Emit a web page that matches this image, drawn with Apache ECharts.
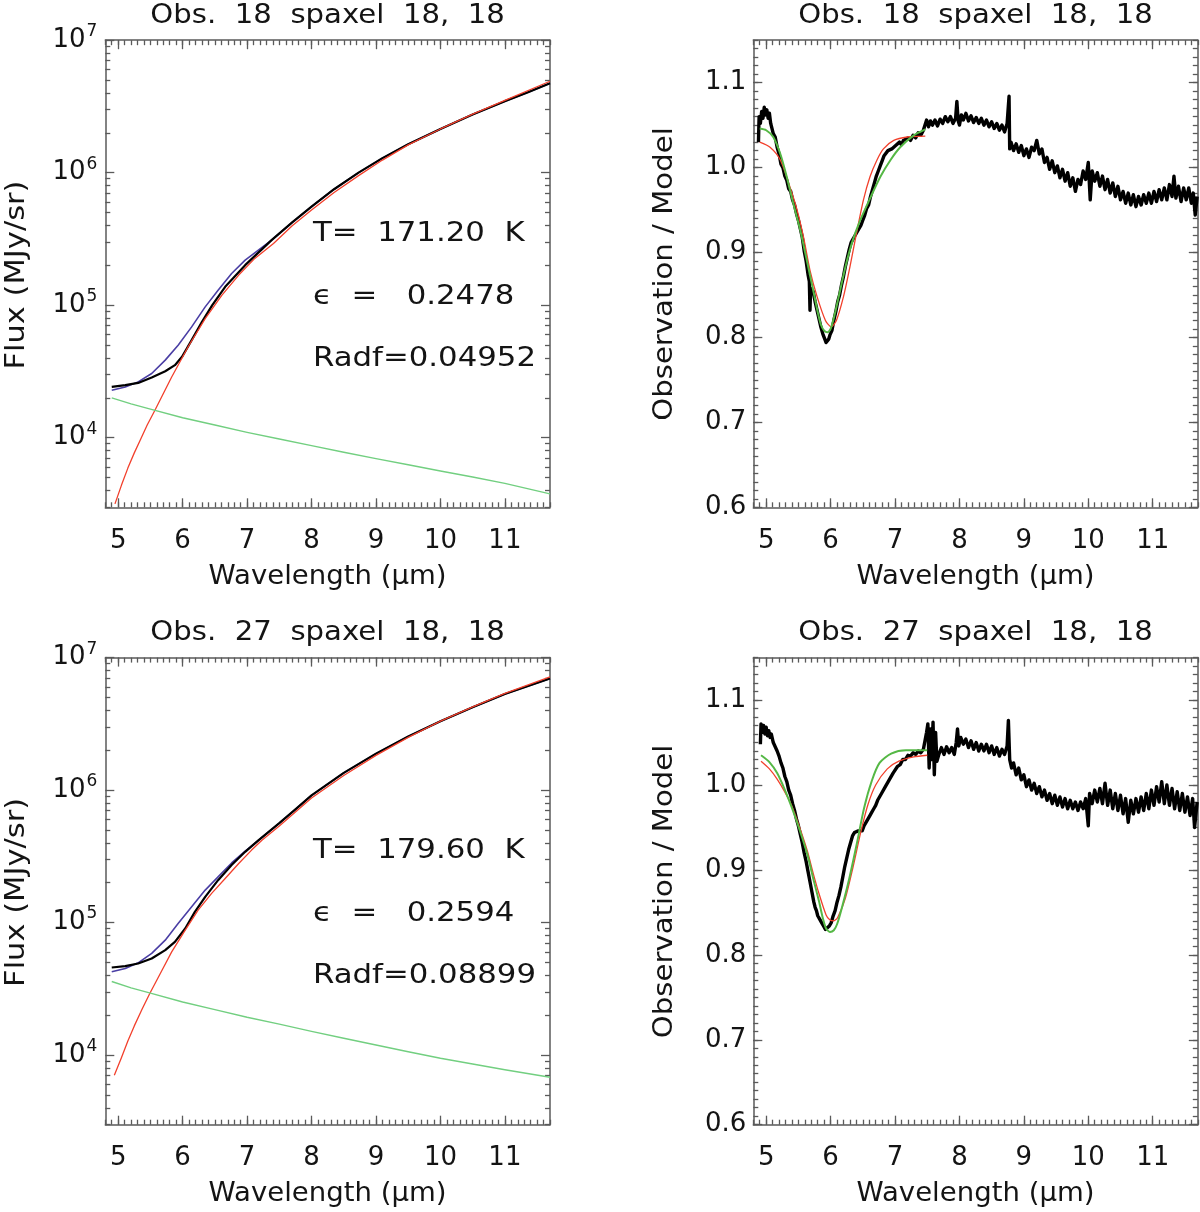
<!DOCTYPE html>
<html>
<head>
<meta charset="utf-8">
<script src="https://cdn.jsdelivr.net/npm/echarts@6/dist/echarts.min.js"></script>
<style>html,body{margin:0;padding:0;background:#fff}#c{width:1200px;height:1212px}</style>
</head>
<body>
<div id="c"></div>
<script>
// ---------- tick labels ----------
const xTicks = [5, 6, 7, 8, 9, 10, 11];
const logTicks = [1e4, 1e5, 1e6, 1e7];
const ratioTicks = [0.6, 0.7, 0.8, 0.9, 1.0, 1.1];

// ---------- Obs. 18 : flux (MJy/sr) ----------
const obs18Flux = [[4.90,24150],[5.11,24890],[5.31,25880],[5.52,28440],[5.73,31700],[5.88,35240],[5.99,40740],[6.14,54450],[6.30,74820],[6.46,100000],[6.66,137700],[6.97,200400],[7.38,309700],[7.70,421700],[8.00,553400],[8.35,749900],[8.73,1000000],[9.10,1288000],[9.50,1641000],[10.00,2138000],[10.50,2754000],[11.00,3467000],[11.35,4027000],[11.70,4732000]];
const model18Total = [[4.90,22800],[5.11,24150],[5.31,26360],[5.52,30480],[5.73,38460],[5.93,49890],[6.14,68550],[6.35,97050],[6.55,129700],[6.76,173400],[6.97,218800],[7.38,309700],[7.70,421700],[8.00,553400],[8.35,749900],[8.73,1000000],[9.10,1288000],[9.50,1641000],[10.00,2138000],[10.50,2754000],[11.00,3467000],[11.35,4027000],[11.70,4732000]];
const model18BB = [[4.95,3162],[5.05,4365],[5.15,5888],[5.25,7674],[5.35,9772],[5.45,12450],[5.57,16110],[5.83,28710],[6.09,48980],[6.35,79250],[6.61,119100],[6.87,168700],[7.12,225400],[7.41,292400],[7.70,398100],[8.00,522400],[8.35,707900],[8.73,950600],[9.10,1245000],[9.50,1622000],[10.00,2138000],[10.50,2767000],[11.00,3516000],[11.70,4898000]];
const model18Scat = [[4.90,19950],[5.20,17990],[5.50,16410],[6.00,14130],[6.50,12450],[7.00,10960],[7.50,9772],[8.00,8710],[8.50,7762],[9.00,6950],[9.50,6237],[10.00,5598],[10.50,5047],[11.00,4519],[11.70,3767]];

// ---------- Obs. 27 : flux (MJy/sr) ----------
const obs27Flux = [[4.90,45810],[5.11,46880],[5.31,49090],[5.52,53580],[5.73,61940],[5.88,71450],[6.04,90160],[6.19,120500],[6.35,156300],[6.55,208900],[6.76,271600],[6.97,342000],[7.18,418800],[7.50,562300],[7.75,716100],[8.00,912000],[8.50,1349000],[9.00,1884000],[9.50,2541000],[10.00,3311000],[10.50,4217000],[11.00,5309000],[11.70,6950000]];
const model27Total = [[4.90,42460],[5.11,45080],[5.31,49660],[5.52,58480],[5.73,73620],[5.93,98400],[6.14,131500],[6.35,175800],[6.55,221300],[6.76,281800],[6.97,346700],[7.18,418800],[7.50,562300],[7.75,716100],[8.00,912000],[8.50,1349000],[9.00,1884000],[9.50,2541000],[10.00,3311000],[10.50,4217000],[11.00,5309000],[11.70,6950000]];
const model27BB = [[4.94,7031],[5.05,9550],[5.15,12760],[5.25,16600],[5.37,22130],[5.49,29170],[5.68,43650],[5.83,60120],[6.04,87700],[6.24,124200],[6.45,166000],[6.66,215300],[6.87,279300],[7.07,352400],[7.23,418800],[7.50,534600],[7.75,683900],[8.00,871000],[8.50,1288000],[9.00,1828000],[9.50,2500000],[10.00,3311000],[10.50,4246000],[11.00,5370000],[11.70,7161000]];
const model27Scat = [[4.90,35890],[5.20,32140],[5.50,29310],[6.00,25120],[6.50,22030],[7.00,19280],[7.50,17100],[8.00,15100],[8.50,13400],[9.00,11900],[9.50,10600],[10.00,9450],[10.50,8550],[11.00,7750],[11.70,6792]];

// ---------- Obs. 18 : observation / model ----------
const obs18Ratio = [[4.88,1.030],[4.89,1.060],[4.91,1.052],[4.93,1.066],[4.95,1.058],[4.97,1.071],[4.99,1.062],[5.01,1.068],[5.03,1.058],[5.05,1.064],[5.07,1.052],[5.09,1.050],[5.11,1.040],[5.14,1.036],[5.17,1.024],[5.20,1.016],[5.23,1.004],[5.26,1.000],[5.29,0.990],[5.32,0.985],[5.35,0.975],[5.38,0.972],[5.41,0.962],[5.44,0.956],[5.47,0.946],[5.50,0.938],[5.53,0.928],[5.56,0.918],[5.59,0.902],[5.62,0.890],[5.65,0.874],[5.67,0.866],[5.68,0.832],[5.69,0.858],[5.71,0.860],[5.73,0.854],[5.76,0.842],[5.79,0.832],[5.82,0.822],[5.85,0.812],[5.88,0.804],[5.91,0.798],[5.93,0.794],[5.95,0.796],[5.97,0.798],[5.99,0.803],[6.02,0.808],[6.05,0.820],[6.08,0.830],[6.11,0.842],[6.14,0.850],[6.17,0.862],[6.20,0.872],[6.23,0.884],[6.26,0.894],[6.29,0.904],[6.32,0.912],[6.35,0.916],[6.38,0.920],[6.41,0.922],[6.44,0.928],[6.47,0.932],[6.50,0.938],[6.53,0.944],[6.56,0.952],[6.59,0.956],[6.62,0.966],[6.65,0.974],[6.68,0.982],[6.71,0.990],[6.74,0.996],[6.77,1.002],[6.80,1.008],[6.83,1.014],[6.86,1.012],[6.89,1.020],[6.92,1.018],[6.95,1.022],[6.98,1.020],[7.01,1.026],[7.04,1.024],[7.07,1.030],[7.10,1.027],[7.13,1.032],[7.16,1.030],[7.20,1.035],[7.24,1.032],[7.28,1.038],[7.32,1.035],[7.36,1.041],[7.40,1.038],[7.44,1.044],[7.47,1.042],[7.49,1.056],[7.52,1.048],[7.55,1.055],[7.58,1.050],[7.62,1.056],[7.66,1.049],[7.70,1.057],[7.74,1.052],[7.78,1.060],[7.82,1.054],[7.86,1.060],[7.90,1.052],[7.94,1.058],[7.96,1.078],[7.98,1.055],[8.00,1.050],[8.03,1.062],[8.06,1.056],[8.10,1.064],[8.14,1.055],[8.18,1.061],[8.22,1.053],[8.26,1.059],[8.30,1.052],[8.34,1.058],[8.38,1.050],[8.42,1.056],[8.46,1.048],[8.50,1.054],[8.54,1.046],[8.58,1.052],[8.62,1.044],[8.66,1.050],[8.70,1.042],[8.74,1.052],[8.77,1.084],[8.78,1.022],[8.80,1.030],[8.84,1.020],[8.88,1.028],[8.92,1.018],[8.96,1.026],[9.00,1.014],[9.04,1.022],[9.08,1.012],[9.12,1.024],[9.16,1.020],[9.20,1.032],[9.24,1.016],[9.28,1.022],[9.32,1.006],[9.36,1.012],[9.40,0.998],[9.44,1.008],[9.48,0.994],[9.52,1.002],[9.56,0.988],[9.60,0.998],[9.64,0.984],[9.68,0.994],[9.72,0.978],[9.76,0.988],[9.80,0.972],[9.84,0.986],[9.88,0.980],[9.92,0.996],[9.96,0.986],[10.00,1.006],[10.03,0.962],[10.06,0.996],[10.10,0.984],[10.14,0.994],[10.18,0.978],[10.22,0.990],[10.26,0.974],[10.30,0.986],[10.34,0.970],[10.38,0.982],[10.42,0.966],[10.46,0.978],[10.50,0.962],[10.54,0.972],[10.58,0.958],[10.62,0.970],[10.66,0.956],[10.70,0.968],[10.74,0.954],[10.78,0.966],[10.82,0.956],[10.86,0.968],[10.90,0.958],[10.94,0.970],[10.98,0.958],[11.02,0.972],[11.06,0.960],[11.10,0.974],[11.14,0.962],[11.18,0.976],[11.22,0.962],[11.26,0.980],[11.30,0.966],[11.33,0.990],[11.36,0.964],[11.40,0.978],[11.44,0.960],[11.48,0.976],[11.52,0.962],[11.56,0.976],[11.60,0.958],[11.63,0.970],[11.66,0.944],[11.69,0.966]];
const fit18Green = [[4.90,1.046],[5.00,1.044],[5.11,1.036],[5.22,1.016],[5.32,0.989],[5.42,0.958],[5.53,0.926],[5.63,0.891],[5.74,0.852],[5.80,0.830],[5.85,0.815],[5.90,0.808],[5.95,0.806],[6.00,0.810],[6.06,0.826],[6.12,0.846],[6.23,0.883],[6.33,0.911],[6.46,0.938],[6.62,0.965],[6.77,0.989],[6.93,1.009],[7.08,1.024],[7.29,1.038],[7.47,1.045]];
const fit18Red = [[4.90,1.030],[5.06,1.024],[5.22,1.009],[5.37,0.977],[5.48,0.950],[5.58,0.918],[5.68,0.879],[5.79,0.848],[5.92,0.820],[6.01,0.8125],[6.09,0.820],[6.20,0.848],[6.30,0.883],[6.40,0.922],[6.51,0.962],[6.61,0.989],[6.72,1.009],[6.82,1.022],[6.98,1.032],[7.19,1.036],[7.47,1.037]];

// ---------- Obs. 27 : observation / model ----------
const obs27Ratio = [[4.91,1.048],[4.92,1.072],[4.94,1.062],[4.96,1.070],[4.98,1.060],[5.00,1.068],[5.02,1.058],[5.04,1.064],[5.06,1.056],[5.08,1.060],[5.11,1.050],[5.14,1.048],[5.17,1.040],[5.20,1.034],[5.23,1.026],[5.26,1.020],[5.29,1.010],[5.32,1.004],[5.35,0.994],[5.38,0.988],[5.41,0.978],[5.44,0.970],[5.47,0.960],[5.50,0.952],[5.53,0.942],[5.56,0.932],[5.59,0.920],[5.62,0.910],[5.65,0.898],[5.68,0.886],[5.71,0.874],[5.74,0.862],[5.76,0.856],[5.78,0.852],[5.80,0.846],[5.83,0.842],[5.86,0.838],[5.89,0.834],[5.92,0.830],[5.95,0.830],[5.98,0.834],[6.01,0.838],[6.04,0.846],[6.07,0.852],[6.10,0.862],[6.13,0.870],[6.16,0.880],[6.19,0.892],[6.22,0.904],[6.25,0.914],[6.28,0.924],[6.31,0.932],[6.34,0.940],[6.37,0.944],[6.40,0.942],[6.43,0.946],[6.46,0.948],[6.49,0.946],[6.52,0.952],[6.55,0.956],[6.58,0.958],[6.61,0.964],[6.64,0.968],[6.67,0.972],[6.70,0.976],[6.73,0.982],[6.76,0.984],[6.79,0.990],[6.82,0.992],[6.85,0.998],[6.88,1.000],[6.91,1.006],[6.94,1.008],[6.97,1.014],[7.00,1.016],[7.04,1.022],[7.08,1.024],[7.12,1.030],[7.16,1.030],[7.20,1.035],[7.24,1.034],[7.28,1.038],[7.32,1.036],[7.36,1.040],[7.40,1.038],[7.44,1.042],[7.47,1.040],[7.49,1.062],[7.51,1.072],[7.53,1.020],[7.55,1.066],[7.57,1.030],[7.59,1.074],[7.61,1.012],[7.63,1.062],[7.65,1.028],[7.68,1.036],[7.72,1.044],[7.76,1.036],[7.80,1.045],[7.84,1.038],[7.88,1.044],[7.92,1.036],[7.95,1.050],[7.97,1.066],[7.99,1.046],[8.02,1.056],[8.06,1.048],[8.10,1.054],[8.14,1.044],[8.18,1.052],[8.22,1.042],[8.26,1.050],[8.30,1.040],[8.34,1.048],[8.38,1.040],[8.42,1.048],[8.46,1.038],[8.50,1.046],[8.54,1.036],[8.58,1.044],[8.62,1.034],[8.66,1.042],[8.70,1.036],[8.74,1.046],[8.76,1.076],[8.78,1.030],[8.81,1.020],[8.84,1.026],[8.88,1.012],[8.92,1.020],[8.96,1.006],[9.00,1.012],[9.04,0.998],[9.08,1.006],[9.12,0.994],[9.16,1.002],[9.20,0.990],[9.24,0.998],[9.28,0.986],[9.32,0.994],[9.36,0.982],[9.40,0.990],[9.44,0.978],[9.48,0.988],[9.52,0.976],[9.56,0.986],[9.60,0.974],[9.64,0.984],[9.68,0.972],[9.72,0.982],[9.76,0.972],[9.80,0.980],[9.84,0.970],[9.88,0.980],[9.92,0.972],[9.96,0.984],[10.00,0.952],[10.02,0.990],[10.06,0.978],[10.10,0.994],[10.14,0.980],[10.18,0.996],[10.22,0.978],[10.26,1.002],[10.30,0.976],[10.34,0.994],[10.38,0.972],[10.42,0.990],[10.46,0.970],[10.50,0.988],[10.54,0.966],[10.58,0.984],[10.62,0.956],[10.66,0.982],[10.70,0.966],[10.74,0.984],[10.78,0.968],[10.82,0.986],[10.86,0.970],[10.90,0.990],[10.94,0.972],[10.98,0.994],[11.02,0.976],[11.06,0.998],[11.10,0.980],[11.14,1.004],[11.18,0.978],[11.22,1.000],[11.26,0.976],[11.30,0.996],[11.34,0.972],[11.38,0.992],[11.42,0.970],[11.46,0.990],[11.50,0.968],[11.54,0.986],[11.58,0.964],[11.62,0.984],[11.65,0.950],[11.69,0.980]];
const fit27Green = [[4.92,1.035],[5.05,1.027],[5.17,1.014],[5.28,0.996],[5.40,0.973],[5.52,0.947],[5.64,0.918],[5.73,0.890],[5.82,0.863],[5.88,0.843],[5.93,0.831],[5.99,0.827],[6.05,0.829],[6.10,0.836],[6.17,0.854],[6.29,0.890],[6.41,0.932],[6.52,0.973],[6.64,1.005],[6.76,1.026],[6.94,1.037],[7.17,1.041],[7.50,1.041]];
const fit27Red = [[4.92,1.028],[5.05,1.019],[5.17,1.007],[5.28,0.993],[5.40,0.975],[5.52,0.950],[5.64,0.922],[5.73,0.896],[5.82,0.872],[5.93,0.847],[5.99,0.841],[6.05,0.840],[6.11,0.844],[6.23,0.867],[6.35,0.904],[6.47,0.945],[6.58,0.977],[6.70,1.000],[6.88,1.019],[7.06,1.028],[7.29,1.033],[7.50,1.035]];

// ---------- styling ----------
const FONT = '"DejaVu Sans", "Liberation Sans", sans-serif';
const AX = '#5a5a5a';
const TXT = '#141414';
const BLUE = '#4a3ea4', RED = '#f2402c', GREEN_L = '#72cf80', GREEN_R = '#55b845', BLACK = '#000000';

const xMinor = []; for (let i = 48; i <= 117; i++) xMinor.push(i / 10);
const ratioMinor = []; for (let i = 60; i <= 115; i++) ratioMinor.push(i / 100);
const logMinor = []; for (let e = 3; e <= 6; e++) for (let m = 2; m <= 9; m++) { const v = m * Math.pow(10, e); if (v >= 2980) logMinor.push(v); }

const grids = [
  {left: 105.3, top: 40.2, width: 444.7, height: 467.1},
  {left: 753.3, top: 40.2, width: 444.5, height: 467.1},
  {left: 105.3, top: 657.6, width: 444.7, height: 467.1},
  {left: 753.3, top: 657.6, width: 444.5, height: 467.1}
];

const lineS = {color: AX, width: 1.5};
const tickS = {color: AX, width: 1.3};

function xAxesFor(g) {
  const base = {type: 'value', gridIndex: g, min: 4.8, max: 11.7, splitLine: {show: false}, axisPointer: {show: false}};
  return [
    Object.assign({}, base, {position: 'bottom', axisLine: {show: true, onZero: false, lineStyle: lineS},
      axisTick: {show: true, inside: true, length: 9, customValues: xTicks, lineStyle: tickS},
      axisLabel: {show: true, customValues: xTicks, margin: 21, fontSize: 26, fontFamily: FONT, color: TXT}}),
    Object.assign({}, base, {position: 'bottom', axisLine: {show: false, onZero: false},
      axisTick: {show: true, inside: true, length: 5, customValues: xMinor, lineStyle: tickS}, axisLabel: {show: false}}),
    Object.assign({}, base, {position: 'top', axisLine: {show: true, onZero: false, lineStyle: lineS},
      axisTick: {show: true, inside: true, length: 9, customValues: xTicks, lineStyle: tickS}, axisLabel: {show: false}}),
    Object.assign({}, base, {position: 'top', axisLine: {show: false, onZero: false},
      axisTick: {show: true, inside: true, length: 5, customValues: xMinor, lineStyle: tickS}, axisLabel: {show: false}})
  ];
}

function yAxesFor(g, isLog) {
  const base = isLog
    ? {type: 'log', logBase: 10, min: 2980, max: 1e7, gridIndex: g, splitLine: {show: false}, axisPointer: {show: false}}
    : {type: 'value', min: 0.6, max: 1.15, gridIndex: g, splitLine: {show: false}, axisPointer: {show: false}};
  const major = isLog ? logTicks : ratioTicks;
  const minor = isLog ? logMinor : ratioMinor;
  const label = isLog
    ? {show: true, customValues: logTicks, margin: 8, color: TXT, fontFamily: FONT,
       formatter: v => '{b|10}{s|' + Math.round(Math.log10(v)) + '}',
       rich: {b: {fontSize: 26, fontFamily: FONT, color: TXT}, s: {fontSize: 17, fontFamily: FONT, color: TXT, padding: [0, 0, 17, 1]}}}
    : {show: true, customValues: ratioTicks, margin: 7, fontSize: 26, fontFamily: FONT, color: TXT,
       formatter: v => v.toFixed(1)};
  return [
    Object.assign({}, base, {position: 'left', axisLine: {show: true, onZero: false, lineStyle: lineS},
      axisTick: {show: true, inside: true, length: 9, customValues: major, lineStyle: tickS}, axisLabel: label}),
    Object.assign({}, base, {position: 'left', axisLine: {show: false, onZero: false},
      axisTick: {show: true, inside: true, length: 5, customValues: minor, lineStyle: tickS}, axisLabel: {show: false}}),
    Object.assign({}, base, {position: 'right', axisLine: {show: true, onZero: false, lineStyle: lineS},
      axisTick: {show: true, inside: true, length: 9, customValues: major, lineStyle: tickS}, axisLabel: {show: false}}),
    Object.assign({}, base, {position: 'right', axisLine: {show: false, onZero: false},
      axisTick: {show: true, inside: true, length: 5, customValues: minor, lineStyle: tickS}, axisLabel: {show: false}})
  ];
}

function line(data, g, color, width, smooth) {
  return {type: 'line', xAxisIndex: 4 * g, yAxisIndex: 4 * g, data: data, showSymbol: false, symbol: 'none',
    lineStyle: {color: color, width: width, join: 'round'}, itemStyle: {color: color}, smooth: smooth,
    animation: false, silent: true, emphasis: {disabled: true}, clip: true};
}

const xAxis = [].concat(xAxesFor(0), xAxesFor(1), xAxesFor(2), xAxesFor(3));
const yAxis = [].concat(yAxesFor(0, true), yAxesFor(1, false), yAxesFor(2, true), yAxesFor(3, false));

const series = [
  line(model18Total, 0, BLUE, 1.6, false),
  line(obs18Flux, 0, BLACK, 2.2, false),
  line(model18BB, 0, RED, 1.3, false),
  line(model18Scat, 0, GREEN_L, 1.4, false),
  line(obs18Ratio, 1, BLACK, 3.4, false),
  line(fit18Red, 1, RED, 1.3, 0.25),
  line(fit18Green, 1, GREEN_R, 2.0, 0.25),
  line(model27Total, 2, BLUE, 1.6, false),
  line(obs27Flux, 2, BLACK, 2.2, false),
  line(model27BB, 2, RED, 1.3, false),
  line(model27Scat, 2, GREEN_L, 1.4, false),
  line(obs27Ratio, 3, BLACK, 3.4, false),
  line(fit27Red, 3, RED, 1.3, 0.25),
  line(fit27Green, 3, GREEN_R, 2.0, 0.25)
];

function gtext(x, y, text, sx, opts) {
  opts = opts || {};
  return {type: 'text', x: x, y: y, scaleX: sx, rotation: opts.rot || 0, silent: true, z: 100,
    style: {text: text, font: '27px ' + FONT, fill: TXT,
      textAlign: opts.align || 'center', align: opts.align || 'center',
      textVerticalAlign: 'middle', verticalAlign: 'middle'}};
}

const DY = 617.4;
const graphic = [
  gtext(327.6, 16, 'Obs.  18  spaxel  18,  18', 1.08),
  gtext(975.5, 16, 'Obs.  18  spaxel  18,  18', 1.08),
  gtext(327.6, 16 + DY, 'Obs.  27  spaxel  18,  18', 1.08),
  gtext(975.5, 16 + DY, 'Obs.  27  spaxel  18,  18', 1.08),
  gtext(327.6, 577, 'Wavelength (\u03bcm)', 1.02),
  gtext(975.5, 577, 'Wavelength (\u03bcm)', 1.02),
  gtext(327.6, 577 + DY, 'Wavelength (\u03bcm)', 1.02),
  gtext(975.5, 577 + DY, 'Wavelength (\u03bcm)', 1.02),
  gtext(17, 275, 'Flux (MJy/sr)', 1.13, {rot: Math.PI / 2}),
  gtext(17, 275 + DY, 'Flux (MJy/sr)', 1.13, {rot: Math.PI / 2}),
  gtext(665, 274, 'Observation / Model', 1.08, {rot: Math.PI / 2}),
  gtext(665, 274 + DY, 'Observation / Model', 1.08, {rot: Math.PI / 2}),
  gtext(313, 234, 'T=  171.20  K', 1.14, {align: 'left'}),
  gtext(313, 296.6, '\u03f5  =   0.2478', 1.14, {align: 'left'}),
  gtext(313, 359, 'Radf=0.04952', 1.14, {align: 'left'}),
  gtext(313, 234 + DY, 'T=  179.60  K', 1.14, {align: 'left'}),
  gtext(313, 296.6 + DY, '\u03f5  =   0.2594', 1.14, {align: 'left'}),
  gtext(313, 359 + DY, 'Radf=0.08899', 1.14, {align: 'left'})
];

const chart = echarts.init(document.getElementById('c'), null, {renderer: 'canvas'});
chart.setOption({
  backgroundColor: '#ffffff',
  animation: false,
  grid: grids,
  xAxis: xAxis,
  yAxis: yAxis,
  series: series,
  graphic: graphic
});
</script>
</body>
</html>
